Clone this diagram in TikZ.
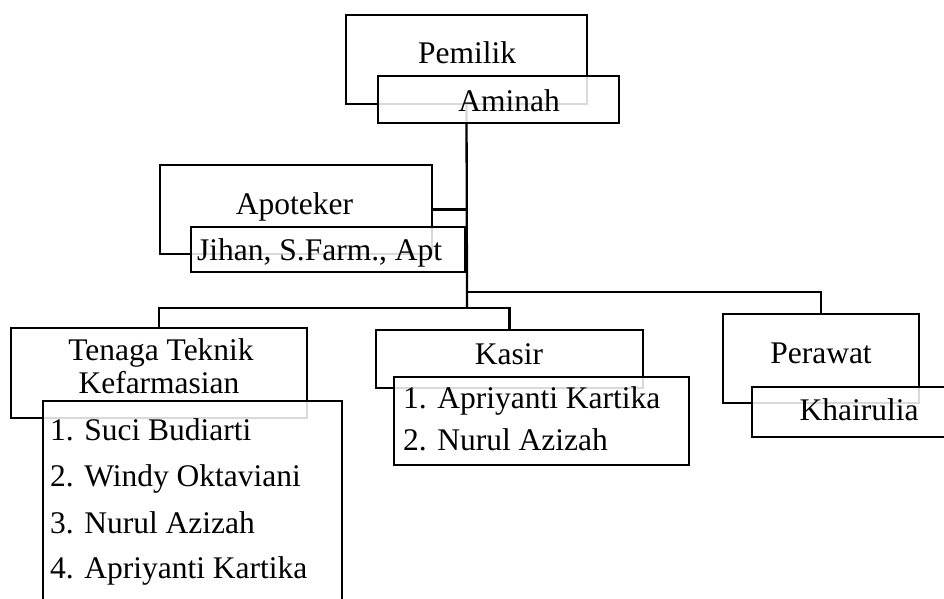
\documentclass[tikz,border=0pt]{standalone}
\usepackage{fontspec}
\setmainfont{Liberation Serif}
\begin{document}
\begin{tikzpicture}[
            x = 1pt, y = -1pt,
            back/.style = {draw, line width = 2.3pt, rectangle, inner sep = 0mm},
            front/.style = {draw, line width = 2.3pt, rectangle, inner sep = 0mm, fill = white, fill opacity = 0.85},
            txt/.style = {inner sep = 0mm, anchor = base, font = \fontsize{31.5}{38}\selectfont},
            item/.style = {txt, anchor = base west},
            conn/.style = {draw, line width = 2.3pt},
        ]
        \useasboundingbox (0,0) rectangle (944,598);

        \node (pemilik) [back, minimum width = 241pt, minimum height = 89pt] at (466.5, 59.5){};
        \node (apoteker) [back, minimum width = 272pt, minimum height = 89pt] at (296, 209.5){};
        \node (tenaga) [back, minimum width = 296pt, minimum height = 90pt] at (159, 373){};
        \node (kasir) [back, minimum width = 267pt, minimum height = 58pt] at (509.5, 359){};
        \node (perawat) [back, minimum width = 196pt, minimum height = 89pt] at (821, 358.5){};

        \coordinate (J) at (467, 308);
        \coordinate (JP) at (467, 292);

        \path[conn] (pemilik.south) -- (J);
        \path[conn] (apoteker.east) -- (apoteker.east -| J);
        \path[conn] (J) -| (tenaga.north);
        \path[conn] (J) -| (kasir.north);
        \path[conn] (JP) -| (perawat.north);

        \node (aminah) [front, minimum width = 241pt, minimum height = 47pt] at (498.5, 99.5){};
        \node (jihan) [front, minimum width = 274pt, minimum height = 45pt] at (328, 249.5){};
        \node (ttklist) [front, minimum width = 299pt, minimum height = 218pt] at (192.5, 510){};
        \node (kasirlist) [front, minimum width = 295pt, minimum height = 88pt] at (541.5, 421){};
        \node (khairulia) [front, minimum width = 208pt, minimum height = 50pt] at (856, 412){};

        \node (tPemilik) [txt] at (467, 63) {Pemilik};
        \node (tAminah) [txt] at (509, 111) {Aminah};
        \node (tApoteker) [txt] at (294.5, 214) {Apoteker};
        \node (tJihan) [item] at (197, 260) {Jihan, S.Farm., Apt};
        \node (tTenaga1) [txt] at (161, 360) {Tenaga Teknik};
        \node (tTenaga2) [txt] at (159, 393) {Kefarmasian};
        \node (tKasir) [txt] at (509, 364) {Kasir};
        \node (tPerawat) [txt] at (821, 363) {Perawat};
        \node (tKhairulia) [txt] at (859, 420) {Khairulia};

        \node (ttk1) [item] at (50, 440) {1. Suci Budiarti};
        \node (ttk2) [item] at (50, 486) {2. Windy Oktaviani};
        \node (ttk3) [item] at (50, 533) {3. Nurul Azizah};
        \node (ttk4) [item] at (50, 578) {4. Apriyanti Kartika};

        \node (ksr1) [item] at (403, 408) {1. Apriyanti Kartika};
        \node (ksr2) [item] at (403, 450) {2. Nurul Azizah};
    \end{tikzpicture}
\end{document}
